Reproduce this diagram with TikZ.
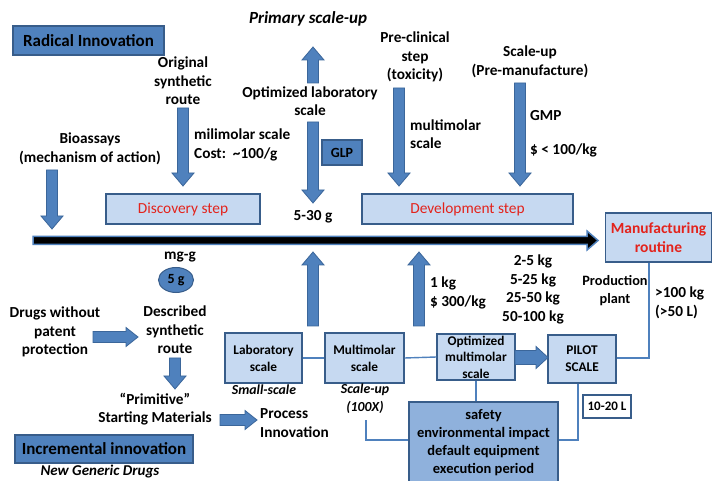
\documentclass[tikz,border=0pt]{standalone}
\usepackage{fontspec}
\setmainfont{Carlito}
\usetikzlibrary{positioning,shapes.geometric}
\definecolor{arrblue}{HTML}{4F81BD}
\definecolor{arrborder}{HTML}{3B669A}
\definecolor{lightfill}{HTML}{C6D9F1}
\definecolor{midfill}{HTML}{8FB1DC}
\definecolor{boxborder}{HTML}{385D8A}
\definecolor{redtxt}{HTML}{E3231C}
\tikzset{
  lbl/.style={font=\fontsize{15.3}{18.5}\selectfont\bfseries, align=center, inner sep=0pt},
  lblL/.style={lbl, align=left, anchor=west},
  ital/.style={font=\fontsize{13.8}{18}\selectfont\bfseries\itshape, align=center, inner sep=0pt},
  darkbox/.style={draw=boxborder, line width=1.3pt, fill=arrblue, inner sep=0pt,
     font=\fontsize{17}{20}\selectfont\bfseries},
  lightbox/.style={draw=boxborder, line width=1.3pt, fill=lightfill, inner sep=0pt,
     font=\fontsize{13.3}{17}\selectfont\bfseries, align=center},
  stepbox/.style={draw=boxborder, line width=1.3pt, fill=lightfill, inner sep=0pt,
     font=\fontsize{15.4}{18}\selectfont, text=redtxt, align=center},
  barrow/.style={fill=arrblue, draw=arrborder, line width=0.8pt},
  thin/.style={draw=arrblue, line width=1.4pt}
}
% vertical block arrows: x, tail y, tip y
\newcommand\ArrD[3]{\draw[barrow] ({#1-5.5},#2) -- ({#1+5.5},#2) -- ({#1+5.5},{#3-13}) -- ({#1+11},{#3-13}) -- (#1,#3) -- ({#1-11},{#3-13}) -- ({#1-5.5},{#3-13}) -- cycle;}
\newcommand\ArrU[3]{\draw[barrow] ({#1-5.5},#2) -- ({#1+5.5},#2) -- ({#1+5.5},{#3+13}) -- ({#1+11},{#3+13}) -- (#1,#3) -- ({#1-11},{#3+13}) -- ({#1-5.5},{#3+13}) -- cycle;}
% horizontal block arrow: y, tail x, tip x, half shaft, half head
\newcommand\ArrR[5]{\draw[barrow] (#2,{#1-#4}) -- ({#3-12},{#1-#4}) -- ({#3-12},{#1-#5}) -- (#3,#1) -- ({#3-12},{#1+#5}) -- ({#3-12},{#1+#4}) -- (#2,{#1+#4}) -- cycle;}
\begin{document}
\begin{tikzpicture}[x=1pt,y=-1pt]
\useasboundingbox (0,0) rectangle (713,481);
\fill[white] (0,0) rectangle (713,481);

% ---- top part ----
\node[darkbox, minimum width=151pt, minimum height=29pt] (radical) at (88.5,40.5) {Radical Innovation};
\node[lbl, font=\fontsize{17}{20}\selectfont\bfseries\itshape] (primary) at (308,19) {Primary scale-up};
\node[lbl] (orig) at (183,81) {Original\\synthetic\\route};
\node[lbl] (optlab) at (310,101) {Optimized laboratory\\scale};
\node[lbl] (preclin) at (415,57) {Pre-clinical\\step\\(toxicity)};
\node[lbl] (scaleup) at (530,62) {Scale-up\\(Pre-manufacture)};
\node[lbl] (bio) at (90,149) {Bioassays\\(mechanism of action)};
\node[lblL] (mili) at (194,145) {milimolar scale\\Cost:~~\textasciitilde100/g};
\node[darkbox, minimum width=40pt, minimum height=25pt, font=\fontsize{14}{16}\selectfont\bfseries] (glp) at (342,152.5) {GLP};
\node[lblL] (multimolar) at (410,134) {multimolar\\scale};
\node[lblL] (gmp) at (530,116) {GMP};
\node[lblL] (price) at (530,150) {\$ < 100/kg};
\node[stepbox, minimum width=154pt, minimum height=30pt] (disc) at (183,209) {Discovery step};
\node[stepbox, minimum width=211pt, minimum height=30pt] (dev) at (467.5,209) {Development step};
\node[lbl] (g530) at (313,217) {5-30 g};
\node[stepbox, minimum width=106pt, minimum height=49pt, font=\fontsize{15.5}{18.5}\selectfont\bfseries] (manu) at (658.5,237.5) {Manufacturing\\routine};

% block arrows (top)
\ArrU{313}{83}{47}
\ArrD{313}{122}{203}
\ArrD{183}{108}{186}
\ArrD{52}{170}{229}
\ArrD{399}{88}{186}
\ArrD{520}{83}{186}

% timeline arrow
\draw[fill=black, draw=arrblue, line width=1.5pt] (33,236.5) -- (587,236.5) -- (587,231) -- (598,240.5) -- (587,250) -- (587,244.5) -- (33,244.5) -- cycle;

% ---- bottom part ----
\node[lbl] (mgg) at (180,257) {mg-g};
\node[ellipse, draw=boxborder, line width=1pt, fill=arrblue, minimum width=35pt, minimum height=25pt, inner sep=0pt, font=\fontsize{14}{16}\selectfont\bfseries] (fiveg) at (176,280) {5 g};
\node[lbl] (drugs) at (55,332) {Drugs without\\patent\\protection};
\node[lbl] (described) at (175,330) {Described\\synthetic\\route};
\node[lbl] (primitive) at (155,409) {“Primitive”\\Starting Materials};
\node[lblL] (process) at (260,423) {Process\\Innovation};
\node[darkbox, minimum width=178pt, minimum height=28pt] (incr) at (104,449) {Incremental innovation};
\node[ital, font=\fontsize{15}{18}\selectfont\bfseries\itshape] (newgen) at (100,472) {New Generic Drugs};

\node[lbl] (kgs) at (533,289.5) {2-5 kg\\5-25 kg\\25-50 kg\\50-100 kg};
\node[lblL] (onekg) at (430,293) {1 kg\\\$ 300/kg};
\node[lbl, font=\fontsize{14.3}{18}\selectfont\bfseries] (prod) at (615,291) {Production\\plant};
\node[lblL] (hundred) at (655,303) {>100 kg\\(>50 L)};

\node[lightbox, minimum width=77pt, minimum height=50pt] (lab) at (263.5,358) {Laboratory\\scale};
\node[ital] (small) at (264,390) {Small-scale};
\node[lightbox, minimum width=79pt, minimum height=50pt] (mm) at (364.5,358) {Multimolar\\scale};
\node[ital] (up100) at (365,399) {Scale-up\\(100X)};
\node[lightbox, minimum width=78pt, minimum height=46pt, font=\fontsize{13.3}{16.5}\selectfont\bfseries] (opt) at (476,357) {Optimized\\multimolar\\scale};
\node[lightbox, minimum width=68pt, minimum height=48pt] (pilot) at (582,359) {PILOT\\SCALE};
\node[draw=boxborder, line width=1.2pt, fill=white, minimum width=48pt, minimum height=23pt, inner sep=0pt, font=\fontsize{13}{15}\selectfont\bfseries] (tenl) at (607,406.5) {10-20 L};
\node[draw=boxborder, line width=1.3pt, fill=midfill, minimum width=149pt, minimum height=82pt, inner sep=0pt, align=center, font=\fontsize{14.5}{18}\selectfont\bfseries] (safety) at (483.5,443) {safety\\environmental impact\\default equipment\\execution period};

% block arrows (bottom)
\ArrU{313}{326}{252}
\ArrU{419}{326}{252}
\ArrR{337}{93}{138}{5.5}{9.5}
\ArrD{175}{358}{389}
\ArrR{420}{220}{257}{5.5}{9.5}
\ArrR{357.5}{515}{548}{7}{11}

% thin connectors
\coordinate (c100) at (366,420);
\draw[thin] (lab.east) -- (mm.west);
\draw[thin] (mm.east) -- (opt.west);
\draw[thin] (opt.south) -- (safety.north -| opt.south);
\draw[thin] (pilot.south -| 578,0) -- (578,440) -- (safety.east |- 0,440);
\draw[thin] (manu.south -| 649,0) -- (649,358) -- (pilot.east |- 0,358);
\draw[thin] (c100) -- (366,440) -- (safety.west |- 0,440);
\end{tikzpicture}
\end{document}
